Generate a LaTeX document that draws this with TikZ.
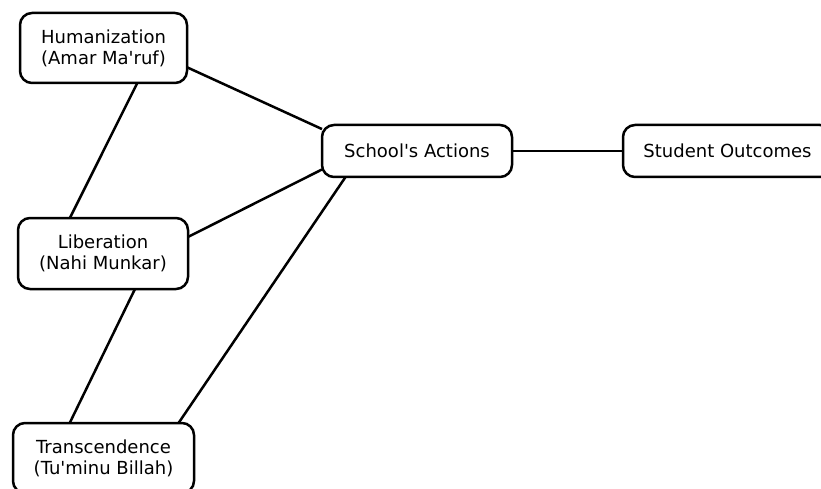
\documentclass[tikz,border=0pt]{standalone}
\usepackage{fontspec}
\newfontfamily\dejavu{DejaVu Sans}
\begin{document}
\begin{tikzpicture}[x=1pt,y=1pt,
  box/.style={draw=black, line width=2.5pt, rounded corners=12pt, fill=white, align=center,
    inner sep=0pt, outer sep=0pt, font=\dejavu\fontsize{18}{21}\selectfont},
  link/.style={draw=black, line width=2.5pt}]
\useasboundingbox (0,0) rectangle (821,488);
\node[box, minimum width=167pt, minimum height=70pt] (h) at (103.5,440) {Humanization\\(Amar Ma'ruf)};
\node[box, minimum width=170pt, minimum height=71pt] (l) at (103,234.5) {Liberation\\(Nahi Munkar)};
\node[box, minimum width=181pt, minimum height=70pt] (t) at (103.5,30) {Transcendence\\(Tu'minu Billah)};
\node[box, minimum width=190pt, minimum height=52pt] (s) at (417,337) {School's Actions};
\node[box, minimum width=209pt, minimum height=52pt] (o) at (727.5,337) {Student Outcomes};
\draw[link] (h.-13) -- (s.167);
\draw[link] (l.11) -- (s.191);
\draw[link] (t.25) -- (s.200);
\draw[link] (h.-46) -- (l.133);
\draw[link] (l.-48) -- (t.134);
\draw[link] (s.east) -- (o.west);
\end{tikzpicture}
\end{document}
